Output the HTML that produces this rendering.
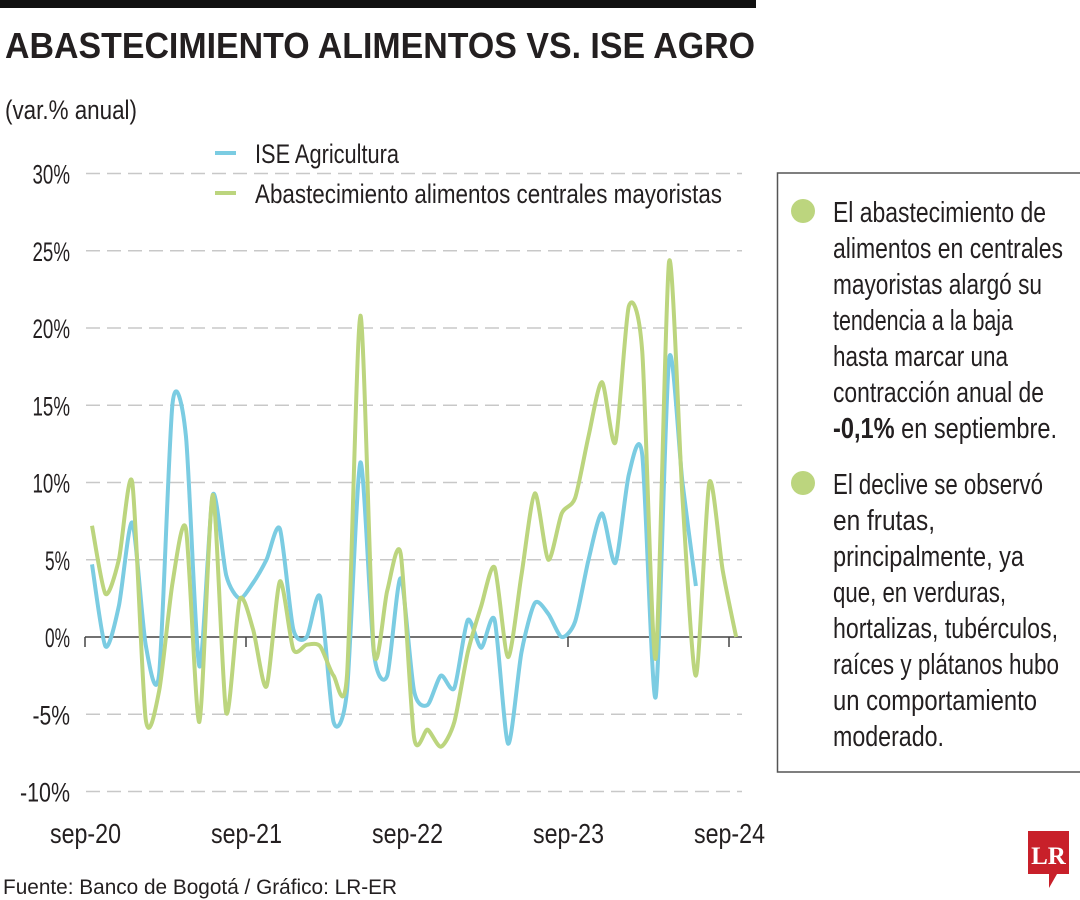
<!DOCTYPE html>
<html><head><meta charset="utf-8">
<style>
html,body{margin:0;padding:0;background:#fff;}
svg{display:block;}
text{font-family:"Liberation Sans Narrow","Liberation Sans",sans-serif;fill:#231f20;}
</style></head>
<body>
<svg id="chart" width="1080" height="900" viewBox="0 0 1080 900" xmlns="http://www.w3.org/2000/svg">
  <rect x="0" y="0" width="756" height="8" fill="#111"/>
  <text x="5" y="58" font-size="36" font-weight="bold" textLength="750" lengthAdjust="spacingAndGlyphs" style="font-family:'Liberation Sans',sans-serif">ABASTECIMIENTO ALIMENTOS VS. ISE AGRO</text>
  <text x="5" y="119" font-size="27" textLength="132" lengthAdjust="spacingAndGlyphs">(var.% anual)</text>

  <g id="grid"></g>
  <g id="yticks"></g>
  <g id="xticks"></g>
  <g id="series"></g>

  <g>
    <line x1="215" y1="153" x2="236" y2="153" stroke="#7bcce2" stroke-width="4"/>
    <text x="255" y="163" font-size="27" textLength="144" lengthAdjust="spacingAndGlyphs">ISE Agricultura</text>
    <line x1="215" y1="193" x2="236" y2="193" stroke="#bcd57e" stroke-width="4"/>
    <text x="255" y="203" font-size="27" textLength="467" lengthAdjust="spacingAndGlyphs">Abastecimiento alimentos centrales mayoristas</text>
  </g>

  <g>
    <path d="M1080 173 H777.5 V772 H1080" fill="none" stroke="#555" stroke-width="1.5"/>
    <circle cx="803" cy="211" r="12" fill="#bcd57e"/>
    <circle cx="803" cy="483" r="12" fill="#bcd57e"/>
    <g id="notes" font-size="29"></g>
  </g>

  <text x="3" y="894" font-size="21" fill="#333" textLength="394" lengthAdjust="spacingAndGlyphs">Fuente: Banco de Bogotá / Gráfico: LR-ER</text>
  <g>
    <path d="M1028 831 H1069 V874 H1057 L1049 888 V874 H1028 Z" fill="#c8202a"/>
    <text x="1048.5" y="864" font-size="25" font-weight="bold" text-anchor="middle" style="font-family:'Liberation Serif',serif;fill:#fff">LR</text>
  </g>
</svg>
<script>
const yTicks = [30, 25, 20, 15, 10, 5, 0, -5, -10];
const xLabels = ["sep-20", "sep-21", "sep-22", "sep-23", "sep-24"];
const greenValues = [7.2, 2.8, 5, 10, -5.3, -3.5, 3.5, 7, -5.5, 9.2, -4.9, 2.4, 0.5, -3.2, 3.6, -0.8, -0.5, -0.6, -2.5, -2.5, 20.8, -0.9, 3, 5.4, -6.5, -6, -7.1, -5.5, -1, 2, 4.5, -1.3, 4, 9.3, 5, 8, 9, 13, 16.5, 12.6, 21.4, 18.5, -1.4, 24.3, 9, -2.5, 10, 4.3, 0];
const blueValues = [4.7, -0.6, 2, 7.4, -0.5, -2.4, 15.1, 13, -1.9, 9.2, 4, 2.5, 3.5, 5, 7, 0.5, 0, 2.6, -5.5, -3.5, 11.3, -1, -2.5, 3.8, -3.5, -4.4, -2.5, -3.3, 1.1, -0.7, 1.1, -6.9, -1, 2.2, 1.5, 0, 1, 5, 8, 4.8, 10.5, 11.8, -3.9, 18, 10, 3.3];
const notes1 = ["El abastecimiento de","alimentos en centrales","mayoristas alargó su","tendencia a la baja","hasta marcar una","contracción anual de"];
const notes2 = ["El declive se observó","en frutas,","principalmente, ya","que, en verduras,","hortalizas, tubérculos,","raíces y plátanos hubo","un comportamiento","moderado."];

const NS = "http://www.w3.org/2000/svg";
function y(v){ return 637 - v * 15.45; }
function x(i){ return 92 + i * 13.42; }
function xYear(k){ return 85 + k * 161; }
function mk(tag, attrs, parent){ const e=document.createElementNS(NS,tag); for(const k in attrs) e.setAttribute(k,attrs[k]); parent.appendChild(e); return e; }

const grid=document.getElementById('grid'), yt=document.getElementById('yticks'), xt=document.getElementById('xticks'), ser=document.getElementById('series'), notes=document.getElementById('notes');
yTicks.forEach(v=>{
  if(v!==0){
    const l=mk('line',{x1:86,x2:742,y1:y(v),y2:y(v),stroke:'#c8c8c8','stroke-width':1.5,'stroke-dasharray':'14 7'},grid);
    
    
  }
  const label=v+'%';
  const w = label.length*12.5;
  const t=mk('text',{x:70,y:y(v)+10,'font-size':27,'text-anchor':'end',textLength:w,lengthAdjust:'spacingAndGlyphs'},yt);
  t.textContent=label;
  
  
});
const base=mk('line',{x1:85,x2:742,y1:y(0),y2:y(0),stroke:'#444','stroke-width':1.5},xt);


xLabels.forEach((lab,k)=>{
  const tk=mk('line',{x1:xYear(k),x2:xYear(k),y1:y(0),y2:y(0)+10,stroke:'#444','stroke-width':1.5},xt);
  
  
  const t=mk('text',{x:xYear(k)-35,y:843,'font-size':28,textLength:71,lengthAdjust:'spacingAndGlyphs'},xt);
  t.textContent=lab;
  
  
});
function smooth(vals){
  const p=vals.map((v,i)=>[x(i),y(v)]);
  const k=8;
  let d='M'+p[0][0]+' '+p[0][1];
  for(let i=0;i<p.length-1;i++){
    const p0=p[Math.max(0,i-1)],p1=p[i],p2=p[i+1],p3=p[Math.min(p.length-1,i+2)];
    const c1=[p1[0]+(p2[0]-p0[0])/k,p1[1]+(p2[1]-p0[1])/k];
    const c2=[p2[0]-(p3[0]-p1[0])/k,p2[1]-(p3[1]-p1[1])/k];
    d+=` C${c1[0]} ${c1[1]} ${c2[0]} ${c2[1]} ${p2[0]} ${p2[1]}`;
  }
  return d;
}
const bl=mk('path',{d:smooth(blueValues),fill:'none',stroke:'#7bcce2','stroke-width':4,'stroke-linejoin':'round'},ser);


const gl=mk('path',{d:smooth(greenValues),fill:'none',stroke:'#bcd57e','stroke-width':4,'stroke-linejoin':'round'},ser);



const w1=[213,230,209,180,175,211], w2=[210,102,191,173,225,226,204,111];
notes1.forEach((s,i)=>{
  const t=mk('text',{x:833,y:222+i*36,'font-size':29,textLength:w1[i],lengthAdjust:'spacingAndGlyphs'},notes);
  t.textContent=s;
  
  
});
const last=mk('text',{x:833,y:438,'font-size':29,textLength:224,lengthAdjust:'spacingAndGlyphs'},notes);
last.innerHTML='<tspan font-weight="bold">-0,1%</tspan> en septiembre.';


notes2.forEach((s,i)=>{
  const t=mk('text',{x:833,y:494+i*36,'font-size':29,textLength:w2[i],lengthAdjust:'spacingAndGlyphs'},notes);
  t.textContent=s;
  
  
});
</script>
</body></html>
